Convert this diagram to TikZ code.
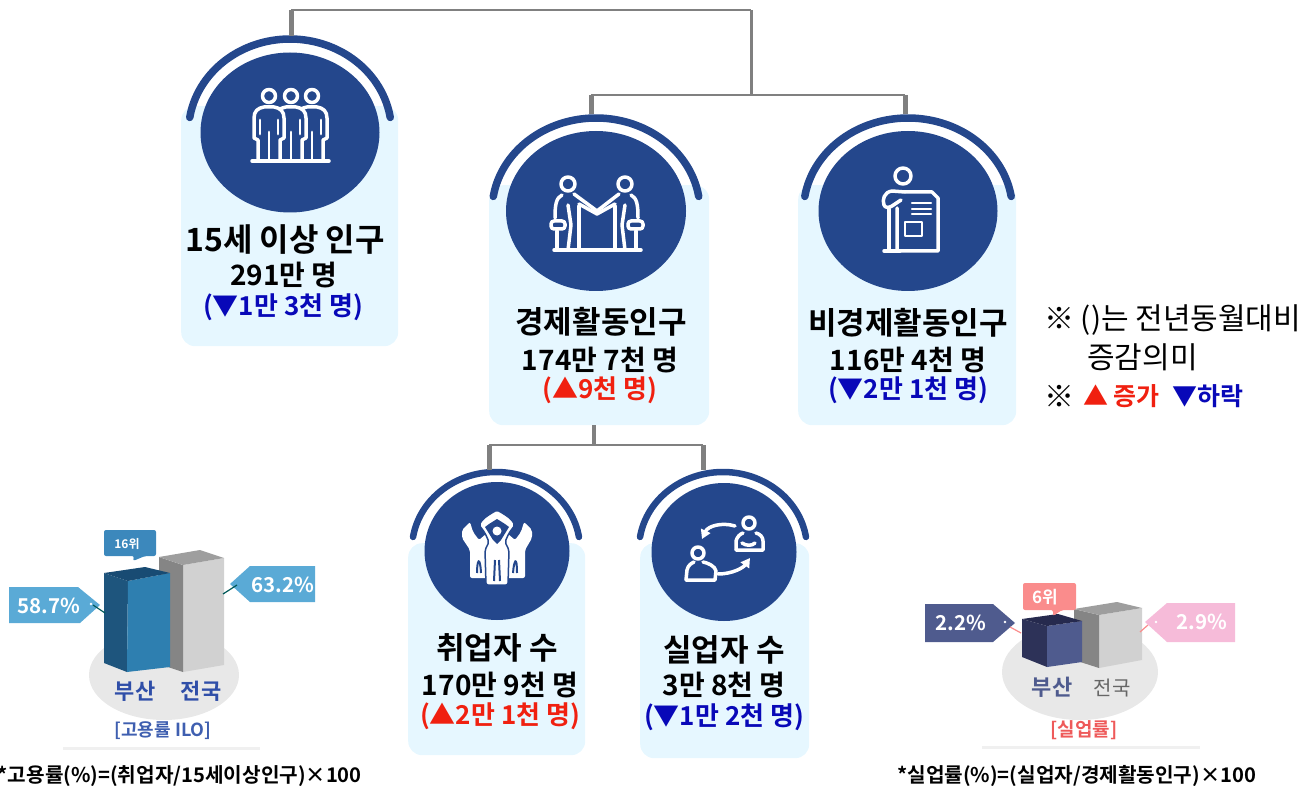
\documentclass[tikz,border=0pt]{standalone}
\usepackage{fontspec}
\setmainfont{Noto Sans CJK KR}[BoldFont={Noto Sans CJK KR Bold}]
\usetikzlibrary{shapes.geometric,arrows.meta}
\definecolor{navy}{HTML}{24478C}
\definecolor{cardbg}{HTML}{E6F7FF}
\definecolor{conn}{HTML}{808080}
\definecolor{upred}{HTML}{F02010}
\definecolor{downblue}{HTML}{0808B8}
\definecolor{tagblue}{HTML}{5AAAD6}
\definecolor{tagnavy}{HTML}{4F5B8E}
\definecolor{tagpink}{HTML}{F6BBD9}
\definecolor{tagsalmon}{HTML}{FA8C8C}
\tikzset{
  x=1pt,y=-1pt,
  card/.style={fill=cardbg,rounded corners=14pt},
  disc/.style={ellipse,fill=navy,inner sep=0pt},
  band/.style={draw=navy,line width=7.5pt,line cap=round},
  thinconn/.style={draw=conn,line width=2.5pt},
  thickconn/.style={draw=conn,line width=5pt},
  ttl/.style={font=\bfseries\fontsize{31}{31}\selectfont,inner sep=0pt},
  val/.style={font=\bfseries\fontsize{28}{28}\selectfont,inner sep=0pt},
  up/.style={font=\bfseries\fontsize{26}{26}\selectfont,inner sep=0pt,text=upred},
  down/.style={font=\bfseries\fontsize{26}{26}\selectfont,inner sep=0pt,text=downblue},
  ico/.style={draw=white,line width=3.5pt,line join=round,line cap=round},
  tagtxt/.style={font=\bfseries\fontsize{20.5}{21}\selectfont,text=white,inner sep=0pt},
  foot/.style={font=\bfseries\fontsize{20.2}{21}\selectfont,inner sep=0pt},
  note/.style={font=\fontsize{30}{30}\selectfont,inner sep=0pt},
  note2/.style={font=\bfseries\fontsize{25}{25}\selectfont,inner sep=0pt},
}
\newcommand{\topband}[4]{\draw[band] plot[smooth,domain=171:9,samples=40] ({#1+#3*cos(\x)},{#2-#4*sin(\x)});}
\newcommand{\figman}[2]{%
  \begin{scope}[shift={(#1,#2)}]
    \draw[ico] (0,0) circle[radius=6.5];
    \draw[ico,fill=navy] (-11,65) -- (-11,44) -- (-15,42) -- (-15,22) .. controls (-15,15) and (-11,12) .. (-5,11) -- (5,11) .. controls (11,12) and (15,15) .. (15,22) -- (15,42) -- (11,44) -- (11,65) -- cycle;
    \draw[ico,line width=2.8pt] (0,36) -- (0,65) (-9,24) -- (-9,38) (9,24) -- (9,38);
  \end{scope}}
\begin{document}
\begin{tikzpicture}
\useasboundingbox (0,0) rectangle (1315,786);

\node[card,minimum width=217pt,minimum height=240pt,anchor=north west] (cardA) at (181,106) {};
\node[card,minimum width=220pt,minimum height=240pt,anchor=north west] (cardB) at (489,185) {};
\node[card,minimum width=218pt,minimum height=240pt,anchor=north west] (cardC) at (798,185) {};
\node[card,minimum width=177pt,minimum height=212pt,anchor=north west] (cardD) at (408,543) {};
\node[card,minimum width=169pt,minimum height=215pt,anchor=north west] (cardE) at (640,543) {};

\node[disc,minimum width=179pt,minimum height=160pt] (discA) at (290,132.5) {};
\node[disc,minimum width=180pt,minimum height=160pt] (discB) at (596,211) {};
\node[disc,minimum width=179pt,minimum height=160pt] (discC) at (908,211) {};
\node[disc,minimum width=145pt,minimum height=138pt] (discD) at (497,551) {};
\node[disc,minimum width=145pt,minimum height=138pt] (discE) at (724,552) {};

\topband{290}{132}{101.5}{93}
\topband{596}{211}{104}{93}
\topband{908}{211}{104.5}{93}
\begin{scope}[band/.append style={line width=6.5pt}]
\topband{496}{549}{84}{77}
\topband{723}{549}{84}{77}
\end{scope}

\coordinate (tA) at (291,36);
\coordinate (tB) at (591,114);
\coordinate (tC) at (905,114);
\coordinate (tD) at (489,470);
\coordinate (tE) at (703,470);
\coordinate (hTopL) at (291,10);
\coordinate (hTopR) at (751,10);
\coordinate (hMidL) at (591,95);
\coordinate (hMidR) at (905,95);
\coordinate (hMidC) at (751,95);
\coordinate (bOut) at (594,425);
\coordinate (hLowC) at (594,445);
\coordinate (hLowL) at (489,445);
\coordinate (hLowR) at (703,445);

\draw[thinconn] (hTopL) -- (hTopR);
\draw[thickconn] (hTopL) -- (tA);
\draw[thinconn,line width=3pt] (hTopR) -- (hMidC);
\draw[thinconn] (hMidL) -- (hMidR);
\draw[thickconn] (hMidL) -- (tB);
\draw[thickconn] (hMidR) -- (tC);
\draw[thinconn,line width=3.5pt] (bOut) -- (hLowC);
\draw[thinconn] (hLowL) -- (hLowR);
\draw[thickconn] (hLowL) -- (tD);
\draw[thickconn] (hLowR) -- (tE);

% icon A
\figman{312}{96}\figman{291}{96}\figman{269}{96}
\draw[ico] (252,161) -- (329,161);

% icon B
\begin{scope}
  \draw[ico] (568,184) circle[radius=7];
  \draw[ico] (625,184) circle[radius=7];
  \draw[ico] (562,195) .. controls (556,198) and (555,205) .. (555,218);
  \draw[ico] (631,195) .. controls (637,198) and (638,205) .. (638,218);
  \draw[ico] (574,194) -- (597,211) -- (619,194);
  \draw[ico] (579,204) -- (597,214) -- (615,204);
  \draw[ico] (579,206) -- (579,250) (615,206) -- (615,250);
  \draw[ico] (557,231) -- (557,250) (636,231) -- (636,250);
  \draw[ico] (568,205) -- (571,225) -- (568,250) (625,205) -- (622,225) -- (625,250);
  \draw[ico,rounded corners=3pt] (551,221) rectangle (565,229);
  \draw[ico,rounded corners=3pt] (628,221) rectangle (643,229);
  \draw[ico] (554,250) -- (641,250);
\end{scope}

% icon C
\begin{scope}
  \draw[ico] (903,176) circle[radius=8];
  \draw[ico] (905,192) -- (892,191) .. controls (884,192) and (882,200) .. (884,205) .. controls (885,208) and (889,208) .. (892,206) -- (901,200);
  \draw[ico] (889,209) -- (889,250);
  \draw[ico] (897,208) -- (897,251) -- (938,251) -- (938,198) -- (932,192) -- (905,192);
  \draw[ico,line width=2.4pt] (912,203) -- (931,203) (912,209) -- (931,209) (912,214) -- (931,214);
  \draw[ico,line width=2.8pt] (905,222) rectangle (922,236);
  \draw[ico] (884,251) -- (900,251);
\end{scope}

% icon D
\begin{scope}
  \fill[white,rounded corners=2pt] (470,522) -- (473,532) -- (479,540) -- (486,534) -- (492,552) -- (488,578) -- (470,578) -- (470,550) -- (462,538) -- (462,530) -- cycle;
  \fill[white,rounded corners=2pt] (524,522) -- (521,532) -- (515,540) -- (508,534) -- (502,552) -- (506,578) -- (525,578) -- (525,550) -- (532,538) -- (532,530) -- cycle;
  \draw[navy,line width=1.5pt,fill=white,rounded corners=2pt] (497,510) -- (504,514) -- (511,519) -- (515,525) -- (509,533) -- (505,542) -- (509,550) -- (508,585) -- (486,585) -- (485,550) -- (489,542) -- (485,533) -- (479,525) -- (483,519) -- (490,514) -- cycle;
  \fill[navy] (497,519) -- (505,524) -- (509,527) -- (501,540) -- (497,544) -- (493,540) -- (485,527) -- (489,524) -- cycle;
  \fill[white] (497,531) circle[radius=4.5];
  \draw[navy,line width=2pt] (477,573) .. controls (477,560) and (480,555) .. (481,573);
  \draw[navy,line width=2pt] (513,573) .. controls (514,560) and (517,555) .. (517,573);
  \draw[navy,line width=2pt] (494,581) -- (495,560) (500,581) -- (499,560);
\end{scope}

% icon E
\begin{scope}
  \draw[ico] (698,553) circle[radius=6];
  \draw[ico] (686,580) -- (687,570) .. controls (688,565) and (692,563) .. (694,562);
  \draw[ico] (703,562) .. controls (708,563) and (715,566) .. (716,571) -- (715,580) -- (686,580);
  \draw[ico] (749,523) circle[radius=6];
  \draw[ico] (736,550) -- (736,541) .. controls (737,537) and (740,534) .. (743,533);
  \draw[ico] (756,533) .. controls (760,534) and (763,537) .. (763,541) -- (763,550) -- (736,550);
  \draw[ico] (742,543) .. controls (746,546) and (752,546) .. (755,543);
  \draw[ico,-{Triangle[length=9pt,width=10pt]}] (735,526) .. controls (722,522) and (708,526) .. (702,539);
  \draw[ico,-{Triangle[length=9pt,width=10pt]}] (718,574) .. controls (732,574) and (743,568) .. (750,558);
\end{scope}

% card texts
\node[ttl,font=\bfseries\fontsize{32}{32}\selectfont] (a1) at (285,240) {15세 이상 인구};
\node[val] (a2) at (284,275) {291만 명};
\node[down] (a3) at (283,307) {(▼1만 3천 명)};
\node[ttl] (b1) at (601,322) {경제활동인구};
\node[val] (b2) at (600,360) {174만 7천 명};
\node[up] (b3) at (600,390) {(▲9천 명)};
\node[ttl] (c1) at (908,323) {비경제활동인구};
\node[val] (c2) at (908,360) {116만 4천 명};
\node[down] (c3) at (908,390) {(▼2만 1천 명)};
\node[ttl] (d1) at (497,648) {취업자 수};
\node[val] (d2) at (500,685) {170만 9천 명};
\node[up] (d3) at (500,716) {(▲2만 1천 명)};
\node[ttl] (e1) at (724,650) {실업자 수};
\node[val] (e2) at (724,685) {3만 8천 명};
\node[down] (e3) at (724,717) {(▼1만 2천 명)};

% notes
\node[note,anchor=west] (n1) at (1044,320) {※ ()는 전년동월대비};
\node[note,anchor=west] (n2) at (1087,357) {증감의미};
\node[note,anchor=west] (n3) at (1044,396) {※};
\node[note2,text=upred,anchor=west] (n4) at (1083,396) {▲ 증가};
\node[note2,text=downblue,anchor=west] (n5) at (1172,396) {▼하락};

% left chart
\fill[black!9] (164,675) ellipse[x radius=75,y radius=45];
\fill[fill=black!18] (183,565) -- (224,558) -- (224,665) -- (183,672) -- cycle;
\fill[fill=black!48] (159,557) -- (183,565) -- (183,672) -- (159,664) -- cycle;
\fill[fill=black!38] (159,557) -- (200,550) -- (224,558) -- (183,565) -- cycle;
\fill[fill={rgb,255:red,30;green,85;blue,125}] (104,573) -- (128,581) -- (127,672) -- (104,663) -- cycle;
\fill[fill={rgb,255:red,46;green,127;blue,176}] (128,581) -- (170,573) -- (170,667) -- (127,672) -- cycle;
\fill[fill={rgb,255:red,24;green,75;blue,115}] (104,573) -- (145,567) -- (170,573) -- (128,581) -- cycle;
\fill[tagblue] (9,587) -- (78,587) -- (100,605) -- (80,623) -- (9,623) -- cycle;
\fill[tagblue] (315,566) -- (315,602) -- (250,602) -- (230,584) -- (250,566) -- cycle;
\draw[draw=teal!70!black,line width=1.2pt] (93,605) -- (105,613);
\draw[draw=teal!70!black,line width=1.2pt] (237,585) -- (223,594);
\fill[white] (91,604) circle[radius=1.3];
\node[tagtxt] (p1) at (49,606) {58.7\%};
\node[tagtxt] (p2) at (283,585) {63.2\%};
\fill[fill={rgb,255:red,60;green,136;blue,188},rounded corners=2pt] (104,530) -- (156,530) -- (156,556) -- (145,556) -- (133,561) -- (134,556) -- (104,556) -- cycle;
\node[font=\bfseries\fontsize{12}{12}\selectfont,text=white,inner sep=0pt] (r1) at (127,544) {16위};
\node[font=\bfseries\fontsize{22}{22}\selectfont,text={rgb,255:red,47;green,78;blue,168},inner sep=0pt] (l1) at (135,691) {부산};
\node[font=\bfseries\fontsize{22}{22}\selectfont,text={rgb,255:red,47;green,78;blue,168},inner sep=0pt] (l2) at (201,691) {전국};
\node[font=\bfseries\fontsize{18}{18}\selectfont,text={rgb,255:red,63;green,95;blue,176},inner sep=0pt] (l3) at (163,731) {[고용률 ILO]};
\fill[black!6] (63,746.5) rectangle (260,750);
\node[foot,anchor=east] (f1) at (362,776) {*고용률(\%)=(취업자/15세이상인구)×100};

% right chart
\fill[black!9] (1080,672) ellipse[x radius=78,y radius=48];
\fill[fill=black!18] (1099,615) -- (1142,608) -- (1142,660) -- (1099,668) -- cycle;
\fill[fill=black!48] (1074,609) -- (1099,615) -- (1099,668) -- (1074,660) -- cycle;
\fill[fill=black!38] (1074,609) -- (1117,602) -- (1142,608) -- (1099,615) -- cycle;
\fill[fill={rgb,255:red,45;green,50;blue,88}] (1022,619) -- (1047,626) -- (1047,667) -- (1022,657) -- cycle;
\fill[fill=tagnavy] (1047,626) -- (1082,621) -- (1082,662) -- (1047,667) -- cycle;
\fill[fill={rgb,255:red,38;green,42;blue,78}] (1022,619) -- (1058,614) -- (1082,621) -- (1047,626) -- cycle;
\fill[tagnavy] (925,604) -- (993,604) -- (1015,623) -- (993,642) -- (925,642) -- cycle;
\fill[tagpink] (1235,603) -- (1235,642) -- (1167,642) -- (1145,622) -- (1167,603) -- cycle;
\draw[draw=tagsalmon,line width=1.2pt] (1010,627) -- (1021,633);
\draw[draw=tagsalmon,line width=1.2pt] (1148,625) -- (1140,632);
\fill[white] (1005,622) circle[radius=1.3];
\fill[white] (1156,622) circle[radius=1.3];
\node[tagtxt] (q1) at (961,623) {2.2\%};
\node[tagtxt] (q2) at (1202,622) {2.9\%};
\fill[fill=tagsalmon,rounded corners=2pt] (1023,583) -- (1076,583) -- (1076,610) -- (1062,610) -- (1053,616) -- (1053,610) -- (1023,610) -- cycle;
\node[font=\bfseries\fontsize{17}{17}\selectfont,text=white,inner sep=0pt] (r2) at (1045,597) {6위};
\node[font=\bfseries\fontsize{22}{22}\selectfont,text=tagnavy,inner sep=0pt] (m1) at (1052,687) {부산};
\node[font=\fontsize{20}{20}\selectfont,text=black!60,inner sep=0pt] (m2) at (1112,688) {전국};
\node[font=\bfseries\fontsize{19}{19}\selectfont,text={rgb,255:red,238;green,90;blue,90},inner sep=0pt] (m3) at (1084,730) {[실업률]};
\fill[black!6] (982,745.5) rectangle (1200,749);
\node[foot,anchor=west] (f2) at (897,776) {*실업률(\%)=(실업자/경제활동인구)×100};
\end{tikzpicture}
\end{document}
